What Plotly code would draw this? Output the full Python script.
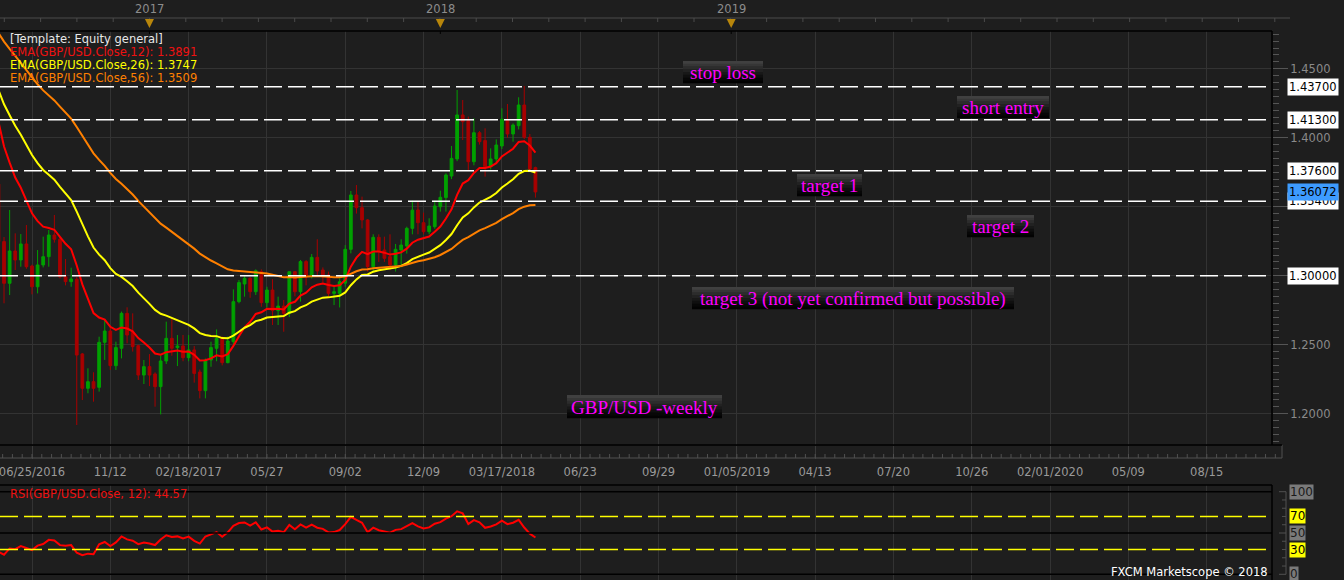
import plotly.graph_objects as go
import pandas as pd

W, H = 1344, 580

# ---------------- data ----------------
bar_dates = pd.date_range("2016-06-25", periods=97, freq="7D")
opens = [1.3664, 1.3247, 1.2945, 1.3179, 1.3114, 1.3230, 1.3070, 1.2920, 1.3078, 1.3138,
         1.3295, 1.3264, 1.2993, 1.2957, 1.2974, 1.2433, 1.2184, 1.2232, 1.2191, 1.2517,
         1.2599, 1.2348, 1.2474, 1.2727, 1.2590, 1.2493, 1.2280, 1.2341, 1.2288, 1.2196,
         1.2382, 1.2546, 1.2479, 1.2491, 1.2406, 1.2462, 1.2302, 1.2167, 1.2389, 1.2474,
         1.2546, 1.2370, 1.2522, 1.2812, 1.2940, 1.2981, 1.2884, 1.3029, 1.2805, 1.2896,
         1.2747, 1.2780, 1.2727, 1.3029, 1.2884, 1.3102, 1.2993, 1.3133, 1.3041, 1.3005,
         1.2872, 1.2872, 1.2946, 1.3191, 1.3585, 1.3493, 1.3404, 1.3065, 1.3278, 1.3186,
         1.3138, 1.3078, 1.3186, 1.3215, 1.3343, 1.3476, 1.3384, 1.3319, 1.3355, 1.3500,
         1.3566, 1.3722, 1.3846, 1.4165, 1.4124, 1.3826, 1.4036, 1.3979, 1.3790, 1.3846,
         1.3940, 1.4128, 1.4027, 1.4087, 1.4237, 1.4003, 1.3783]
highs = [1.3700, 1.3280, 1.3476, 1.3307, 1.3302, 1.3367, 1.3080, 1.3186, 1.3283, 1.3331,
         1.3440, 1.3280, 1.3121, 1.3058, 1.2990, 1.2440, 1.2329, 1.2300, 1.2558, 1.2679,
         1.2640, 1.2522, 1.2740, 1.2771, 1.2727, 1.2500, 1.2389, 1.2432, 1.2300, 1.2420,
         1.2667, 1.2690, 1.2570, 1.2570, 1.2570, 1.2490, 1.2320, 1.2400, 1.2522, 1.2611,
         1.2560, 1.2560, 1.2901, 1.2969, 1.3005, 1.2990, 1.3046, 1.3046, 1.2920, 1.2975,
         1.2848, 1.2824, 1.3030, 1.3030, 1.3114, 1.3114, 1.3157, 1.3264, 1.3060, 1.3030,
         1.2920, 1.2980, 1.3222, 1.3614, 1.3657, 1.3573, 1.3410, 1.3300, 1.3300, 1.3283,
         1.3300, 1.3230, 1.3264, 1.3355, 1.3544, 1.3536, 1.3457, 1.3416, 1.3544, 1.3616,
         1.3742, 1.3940, 1.4346, 1.4273, 1.4153, 1.4140, 1.4048, 1.4068, 1.3923, 1.3988,
         1.4213, 1.4244, 1.4104, 1.4293, 1.4375, 1.4027, 1.3790]
lows = [1.3200, 1.2800, 1.2860, 1.3041, 1.3065, 1.3050, 1.2865, 1.2872, 1.3060, 1.3065,
        1.3240, 1.2980, 1.2930, 1.2920, 1.1918, 1.2099, 1.2148, 1.2087, 1.2160, 1.2390,
        1.2317, 1.2317, 1.2401, 1.2510, 1.2450, 1.2244, 1.2215, 1.2200, 1.2051, 1.1995,
        1.2360, 1.2420, 1.2345, 1.2380, 1.2380, 1.2225, 1.2111, 1.2111, 1.2340, 1.2380,
        1.2350, 1.2365, 1.2500, 1.2800, 1.2848, 1.2840, 1.2860, 1.2775, 1.2770, 1.2643,
        1.2643, 1.2594, 1.2700, 1.2850, 1.2812, 1.2930, 1.2980, 1.3000, 1.2950, 1.2840,
        1.2787, 1.2770, 1.2920, 1.3162, 1.3450, 1.3343, 1.3030, 1.3030, 1.3100, 1.3100,
        1.3040, 1.3030, 1.3060, 1.3160, 1.3300, 1.3300, 1.3300, 1.3300, 1.3340, 1.3464,
        1.3464, 1.3700, 1.3830, 1.3983, 1.3766, 1.3800, 1.3950, 1.3718, 1.3770, 1.3820,
        1.3918, 1.4000, 1.3971, 1.4060, 1.3990, 1.3760, 1.3566]
closes = [1.3247, 1.2945, 1.3179, 1.3114, 1.3230, 1.3065, 1.2920, 1.3078, 1.3138, 1.3295,
          1.3264, 1.2993, 1.2957, 1.2976, 1.2425, 1.2184, 1.2232, 1.2184, 1.2517, 1.2599,
          1.2348, 1.2479, 1.2727, 1.2570, 1.2486, 1.2280, 1.2341, 1.2280, 1.2196, 1.2382,
          1.2546, 1.2474, 1.2491, 1.2406, 1.2462, 1.2292, 1.2167, 1.2389, 1.2479, 1.2546,
          1.2370, 1.2527, 1.2812, 1.2950, 1.2981, 1.2884, 1.3036, 1.2805, 1.2896, 1.2747,
          1.2780, 1.2727, 1.3029, 1.2884, 1.3102, 1.2993, 1.3133, 1.3034, 1.2993, 1.2872,
          1.2884, 1.2956, 1.3191, 1.3585, 1.3493, 1.3404, 1.3065, 1.3278, 1.3174, 1.3126,
          1.3078, 1.3191, 1.3222, 1.3343, 1.3475, 1.3384, 1.3319, 1.3360, 1.3505, 1.3568,
          1.3730, 1.3850, 1.4165, 1.4116, 1.3826, 1.4036, 1.3971, 1.3790, 1.3846, 1.3947,
          1.4133, 1.4027, 1.4092, 1.4237, 1.4003, 1.3773, 1.3607]

# indicator lines, one value per weekly bar
ema12 = [1.4116, 1.3936, 1.3819, 1.3711, 1.3637, 1.3549, 1.3452, 1.3395, 1.3355, 1.3346,
         1.3333, 1.3281, 1.3231, 1.3192, 1.3074, 1.2937, 1.2829, 1.2729, 1.2697, 1.2682,
         1.2630, 1.2607, 1.2625, 1.2617, 1.2597, 1.2548, 1.2516, 1.2480, 1.2436, 1.2428,
         1.2446, 1.2450, 1.2457, 1.2449, 1.2451, 1.2426, 1.2386, 1.2387, 1.2401, 1.2423,
         1.2415, 1.2432, 1.2491, 1.2561, 1.2626, 1.2666, 1.2723, 1.2735, 1.2760, 1.2758,
         1.2761, 1.2756, 1.2798, 1.2811, 1.2856, 1.2877, 1.2916, 1.2935, 1.2944, 1.2933,
         1.2925, 1.2930, 1.2970, 1.3065, 1.3131, 1.3173, 1.3156, 1.3175, 1.3175, 1.3167,
         1.3153, 1.3159, 1.3169, 1.3196, 1.3239, 1.3261, 1.3270, 1.3284, 1.3318, 1.3356,
         1.3414, 1.3481, 1.3586, 1.3668, 1.3692, 1.3745, 1.3780, 1.3781, 1.3791, 1.3815,
         1.3864, 1.3889, 1.3920, 1.3969, 1.3974, 1.3943, 1.3892]
ema26 = [1.4346, 1.4242, 1.4163, 1.4086, 1.4022, 1.3951, 1.3875, 1.3816, 1.3766, 1.3731,
         1.3696, 1.3644, 1.3593, 1.3548, 1.3464, 1.3370, 1.3285, 1.3204, 1.3153, 1.3112,
         1.3055, 1.3013, 1.2991, 1.2960, 1.2925, 1.2877, 1.2838, 1.2796, 1.2752, 1.2724,
         1.2711, 1.2694, 1.2679, 1.2658, 1.2644, 1.2618, 1.2584, 1.2570, 1.2563, 1.2562,
         1.2548, 1.2546, 1.2566, 1.2594, 1.2623, 1.2642, 1.2671, 1.2681, 1.2697, 1.2701,
         1.2707, 1.2708, 1.2732, 1.2743, 1.2770, 1.2786, 1.2812, 1.2829, 1.2841, 1.2843,
         1.2846, 1.2854, 1.2879, 1.2931, 1.2973, 1.3005, 1.3009, 1.3029, 1.3040, 1.3046,
         1.3049, 1.3059, 1.3071, 1.3091, 1.3120, 1.3139, 1.3153, 1.3168, 1.3193, 1.3221,
         1.3259, 1.3302, 1.3366, 1.3422, 1.3452, 1.3495, 1.3530, 1.3550, 1.3571, 1.3599,
         1.3639, 1.3668, 1.3699, 1.3739, 1.3758, 1.3760, 1.3748]
ema56 = [1.4760, 1.4696, 1.4643, 1.4589, 1.4542, 1.4490, 1.4435, 1.4387, 1.4343, 1.4307,
         1.4270, 1.4225, 1.4181, 1.4138, 1.4078, 1.4012, 1.3949, 1.3887, 1.3839, 1.3796,
         1.3745, 1.3701, 1.3666, 1.3628, 1.3588, 1.3542, 1.3500, 1.3457, 1.3413, 1.3377,
         1.3348, 1.3317, 1.3288, 1.3257, 1.3229, 1.3196, 1.3160, 1.3133, 1.3110, 1.3090,
         1.3065, 1.3046, 1.3038, 1.3035, 1.3033, 1.3028, 1.3028, 1.3020, 1.3016, 1.3006,
         1.2998, 1.2989, 1.2990, 1.2987, 1.2991, 1.2991, 1.2996, 1.2997, 1.2997, 1.2993,
         1.2989, 1.2988, 1.2995, 1.3015, 1.3032, 1.3045, 1.3046, 1.3054, 1.3058, 1.3061,
         1.3061, 1.3066, 1.3071, 1.3081, 1.3095, 1.3105, 1.3112, 1.3121, 1.3134, 1.3150,
         1.3170, 1.3194, 1.3228, 1.3259, 1.3279, 1.3306, 1.3329, 1.3345, 1.3363, 1.3383,
         1.3410, 1.3431, 1.3454, 1.3482, 1.3500, 1.3510, 1.3513]
rsi12 = [27.3, 23.8, 31.3, 30.4, 34.2, 31.5, 29.4, 34.7, 36.7, 41.7, 41.0, 35.3, 34.6,
         35.4, 26.1, 23.2, 25.0, 24.4, 36.4, 39.1, 34.3, 38.6, 45.8, 42.3, 40.6,
         36.5, 38.5, 37.2, 35.4, 42.1, 47.3, 45.3, 45.9, 43.4, 45.6, 40.5, 37.2, 45.8,
         48.9, 51.1, 45.4, 50.8, 58.8, 62.1, 62.8, 59.0, 62.9, 54.3, 56.8, 51.7,
         52.8, 50.9, 59.8, 54.6, 60.3, 56.4, 60.0, 56.4, 55.0, 50.7, 51.1, 53.6, 60.8,
         69.5, 65.8, 62.3, 51.0, 56.4, 53.3, 51.8, 50.3, 53.8, 54.7, 58.3, 61.9,
         58.1, 55.5, 56.8, 61.3, 63.2, 67.5, 70.3, 76.2, 73.7, 60.9, 65.6, 63.0, 56.3,
         57.9, 60.5, 65.0, 60.7, 62.4, 65.9, 56.6, 49.2, 44.6]

ema_periods = [12, 26, 56]
ema_legend_values = [1.3891, 1.3747, 1.3509]
ema_colors = ["#ff0000", "#ffff00", "#ff8000"]
rsi_period = 12
rsi_label_value = 44.57

levels = [1.437, 1.413, 1.376, 1.354, 1.300]
current_price = 1.36072

tick_dates = ["2016-08-06", "2016-11-12", "2017-02-18", "2017-05-27", "2017-09-02",
              "2017-12-09", "2018-03-17", "2018-06-23", "2018-09-29", "2019-01-05",
              "2019-04-13", "2019-07-20", "2019-10-26", "2020-02-01", "2020-05-09",
              "2020-08-15"]
tick_labels = ["06/25/2016", "11/12", "02/18/2017", "05/27", "09/02", "12/09",
               "03/17/2018", "06/23", "09/29", "01/05/2019", "04/13", "07/20",
               "10/26", "02/01/2020", "05/09", "08/15"]
year_labels = ["2017", "2018", "2019"]
year_marker_dates = ["2016-12-31", "2017-12-30", "2018-12-29"]
price_ticks = [1.20, 1.25, 1.30, 1.35, 1.40, 1.45]
# 1.3000 and 1.3500 sit under the level boxes in the reference
price_tick_labels = ["1.2000", "1.2500", "", "", "1.4000", "1.4500"]
rsi_marks = [100, 70, 50, 30, 0]

notes = ["stop loss", "short entry", "target 1", "target 2",
         "target 3 (not yet confirmed but possible)", "GBP/USD -weekly"]

# ---------------- layout geometry (pixels) ----------------
PLOT_R = 1272
MAIN_T, MAIN_B = 31, 445
RSI_T = 485
ANCHOR_DATE = pd.Timestamp("2016-08-06")
ANCHOR_PX = 32.0
PX_PER_DAY = 0.7991


def P(x):
    return x / W


def Q(y):
    return 1 - y / H


def date_px(d):
    return ANCHOR_PX + PX_PER_DAY * (pd.Timestamp(d) - ANCHOR_DATE) / pd.Timedelta(days=1)


x_start = ANCHOR_DATE - pd.Timedelta(days=ANCHOR_PX / PX_PER_DAY)
x_end = ANCHOR_DATE + pd.Timedelta(days=(PLOT_R - ANCHOR_PX) / PX_PER_DAY)

# price scale: 1.45 at y=68.7, 1380 px per unit;  RSI scale: 0 at y=574.3, 0.826 px per unit
y_top_val = 1.45 + (68.7 - MAIN_T) / 1380
y_bot_val = 1.45 - (MAIN_B - 68.7) / 1380
r_top_val = (574.3 - RSI_T) / 0.826
r_bot_val = (574.3 - H) / 0.826

BG = "#1e1e1e"
GRID = "#333333"
GREEN = "#00a000"
DRED = "#a80000"
FONT = "DejaVu Sans"

fig = go.Figure()
fig.add_trace(go.Candlestick(
    x=bar_dates, open=opens, high=highs, low=lows, close=closes,
    increasing=dict(line=dict(color=GREEN, width=1), fillcolor=GREEN),
    decreasing=dict(line=dict(color=DRED, width=1), fillcolor=DRED),
    whiskerwidth=0, showlegend=False, hoverinfo="skip", xaxis="x", yaxis="y"))
for vals, col in zip([ema12, ema26, ema56], ema_colors):
    fig.add_trace(go.Scatter(x=bar_dates, y=vals, mode="lines",
                             line=dict(color=col, width=2), hoverinfo="skip",
                             showlegend=False, xaxis="x", yaxis="y"))
fig.add_trace(go.Scatter(x=bar_dates, y=rsi12, mode="lines",
                         line=dict(color="#ff0000", width=2), hoverinfo="skip",
                         showlegend=False, xaxis="x2", yaxis="y2"))

shapes = []
annotations = []

# bottom tick band
shapes.append(dict(type="line", xref="paper", yref="paper", x0=0, x1=P(1282),
                   y0=Q(458), y1=Q(458), line=dict(color="#505050", width=1)))
shapes.append(dict(type="line", xref="paper", yref="paper", x0=P(1282), x1=P(1282),
                   y0=Q(445), y1=Q(458), line=dict(color="#505050", width=1)))
xx = ANCHOR_PX - 3 * 9.79
while xx < 1280:
    if xx > 0:
        shapes.append(dict(type="line", xref="paper", yref="paper", x0=P(xx), x1=P(xx),
                           y0=Q(458), y1=Q(454), line=dict(color="#505050", width=1)))
    xx += 9.79

# top band with year markers
shapes.append(dict(type="line", xref="paper", yref="paper", x0=0, x1=P(1290),
                   y0=Q(18), y1=Q(18), line=dict(color="#4a4a4a", width=1)))
xx = 149.5 - 4 * 36.3
while xx < 1280:
    shapes.append(dict(type="line", xref="paper", yref="paper", x0=P(xx), x1=P(xx),
                       y0=Q(18), y1=Q(22), line=dict(color="#4a4a4a", width=1)))
    xx += 36.3
for lab, d in zip(year_labels, year_marker_dates):
    cx = date_px(d)
    shapes.append(dict(type="path", xref="paper", yref="paper",
                       path=f"M {P(cx-4.5)},{Q(19)} L {P(cx+4.5)},{Q(19)} L {P(cx)},{Q(28)} Z",
                       fillcolor="#b8860b", line=dict(width=0)))
    shapes.append(dict(type="line", xref="paper", yref="paper", x0=P(cx), x1=P(cx),
                       y0=Q(31), y1=Q(34), line=dict(color="#000000", width=1)))
    annotations.append(dict(xref="paper", yref="paper", x=P(cx), y=Q(9), text=lab,
                            showarrow=False, xanchor="center", yanchor="middle",
                            font=dict(family=FONT, size=11.5, color="#8c8c8c")))

# panel borders
for (x0, y0, x1, y1) in [(0, MAIN_T, PLOT_R, MAIN_T), (PLOT_R, MAIN_T, PLOT_R, MAIN_B),
                         (0, MAIN_B, 1282, MAIN_B), (0, RSI_T, PLOT_R, RSI_T),
                         (PLOT_R, RSI_T, PLOT_R, H)]:
    shapes.append(dict(type="line", xref="paper", yref="paper", x0=P(x0), x1=P(x1),
                       y0=Q(y0), y1=Q(y1), line=dict(color="#000000", width=1.5),
                       layer="above"))

# price level dashed lines and their labels
for lv in levels:
    shapes.append(dict(type="line", xref="paper", yref="y", x0=0, x1=P(1266), y0=lv, y1=lv,
                       line=dict(color="#ffffff", width=1.5, dash="18px,6px"), layer="above"))
    annotations.append(dict(xref="paper", yref="y", x=P(1287), y=lv, text=f"{lv:.5f}",
                            showarrow=False, xanchor="left", yanchor="middle",
                            bgcolor="#ffffff", borderpad=1,
                            font=dict(family=FONT, size=11.5, color="#000000")))
annotations.append(dict(xref="paper", yref="y", x=P(1287), y=current_price,
                        text=f"{current_price:.5f}", showarrow=False, xanchor="left",
                        yanchor="middle", bgcolor="#3d9bff", borderpad=1,
                        font=dict(family=FONT, size=11.5, color="#000000")))

# RSI panel lines and labels
for lv in rsi_marks:
    yellow = lv in (70, 30)
    if yellow:
        shapes.append(dict(type="line", xref="paper", yref="y2", x0=0, x1=P(1266), y0=lv,
                           y1=lv, line=dict(color="#ffff00", width=1.5, dash="18px,6px")))
    else:
        shapes.append(dict(type="line", xref="paper", yref="y2", x0=0, x1=P(PLOT_R), y0=lv,
                           y1=lv, line=dict(color="#000000", width=1.5)))
    annotations.append(dict(xref="paper", yref="y2", x=P(1289), y=lv, text=str(lv),
                            showarrow=False, xanchor="left", yanchor="middle",
                            bgcolor="#ffff00" if yellow else "#7a7a7a", borderpad=0,
                            font=dict(family=FONT, size=12,
                                      color="#000000" if yellow else "#1a1a1a")))
shapes.append(dict(type="line", xref="paper", yref="y2", x0=P(1286), x1=P(1286),
                   y0=0, y1=100, line=dict(color="#505050", width=1)))
for k in range(0, 101, 10):
    x0 = 1279 if k in (0, 50, 100) else 1282
    shapes.append(dict(type="line", xref="paper", yref="y2", x0=P(x0), x1=P(1286),
                       y0=k, y1=k, line=dict(color="#505050", width=1)))

# note boxes with a dark gradient background
note_boxes = [(683, 763, 61, 83), (957, 1049, 96, 118), (797, 862, 174, 196),
              (967, 1034, 215, 237), (692, 1014, 287, 309), (567, 722, 395, 418)]
grad = ["#404040", "#363636", "#2c2c2c", "#222222", "#181818", "#0f0f0f", "#070707", "#020202"]
for txt, (bx0, bx1, by0, by1) in zip(notes, note_boxes):
    step = (by1 - by0) / len(grad)
    for k, c in enumerate(grad):
        shapes.append(dict(type="rect", xref="paper", yref="paper", x0=P(bx0), x1=P(bx1),
                           y0=Q(by0 + k * step), y1=Q(by0 + (k + 1) * step + 0.3),
                           fillcolor=c, line=dict(width=0), layer="above"))
    annotations.append(dict(xref="paper", yref="paper", x=P((bx0 + bx1) / 2),
                            y=Q((by0 + by1) / 2 + 0.5), text=txt, showarrow=False,
                            xanchor="center", yanchor="middle",
                            font=dict(family="Liberation Serif", size=19, color="#ff00ff")))

# indicator legend texts
legend_lines = ["[Template: Equity general]"] + [
    f"EMA(GBP/USD.Close,{n}): {v:.4f}" for n, v in zip(ema_periods, ema_legend_values)]
legend_colors = ["#e8e8e8", "#ee1111", "#ffff00", "#ff8000"]
for k, (t, c) in enumerate(zip(legend_lines, legend_colors)):
    annotations.append(dict(xref="paper", yref="paper", x=P(8), y=Q(39.3 + 13 * k), text=t,
                            showarrow=False, xanchor="left", yanchor="middle",
                            font=dict(family=FONT, size=11.5, color=c)))
annotations.append(dict(xref="paper", yref="paper", x=P(8), y=Q(494),
                        text=f"RSI(GBP/USD.Close, {rsi_period}): {rsi_label_value:.2f}",
                        showarrow=False, xanchor="left", yanchor="middle",
                        font=dict(family=FONT, size=11.5, color="#ee1111")))
annotations.append(dict(xref="paper", yref="paper", x=P(1270), y=Q(572),
                        text="FXCM Marketscope © 2018", showarrow=False, xanchor="right",
                        yanchor="middle", font=dict(family=FONT, size=11.5, color="#ffffff")))

fig.update_layout(
    width=W, height=H, margin=dict(l=0, r=0, t=0, b=0),
    paper_bgcolor=BG, plot_bgcolor="rgba(0,0,0,0)", showlegend=False,
    font=dict(family=FONT, color="#9a9a9a"),
    xaxis=dict(domain=[0, P(PLOT_R)], range=[x_start, x_end], type="date",
               tickvals=tick_dates, ticktext=tick_labels, tickmode="array",
               tickfont=dict(family=FONT, size=11.5, color="#9a9a9a"),
               ticks="outside", ticklen=13, tickcolor="#3a3a3a", ticklabelstandoff=3,
               ticklabeloverflow="allow",
               showgrid=True, gridcolor=GRID, gridwidth=1, zeroline=False,
               showline=False, anchor="y", rangeslider=dict(visible=False)),
    yaxis=dict(domain=[Q(MAIN_B), Q(MAIN_T)], range=[y_bot_val, y_top_val], side="right",
               tickvals=price_ticks, ticktext=price_tick_labels, tickmode="array",
               tickfont=dict(family=FONT, size=11.5, color="#8a8a8a"),
               ticks="outside", ticklen=15, tickcolor="#555555",
               ticklabeloverflow="allow",
               minor=dict(dtick=0.005, tick0=1.2, ticks="outside", ticklen=6,
                          tickcolor="#555555", showgrid=False),
               showgrid=True, gridcolor=GRID, zeroline=False, showline=False, anchor="x"),
    xaxis2=dict(domain=[0, P(PLOT_R)], range=[x_start, x_end], type="date", matches="x",
                tickvals=tick_dates, tickmode="array", showticklabels=False, ticks="",
                showgrid=True, gridcolor=GRID, zeroline=False, anchor="y2"),
    yaxis2=dict(domain=[0, Q(RSI_T)], range=[r_bot_val, r_top_val], showgrid=False,
                showticklabels=False, zeroline=False, ticks="", anchor="x2", side="right"),
    shapes=shapes, annotations=annotations,
)

fig.write_html("out.html", config={"displayModeBar": False},
               post_script="document.body.style.margin='0px';"
                           "document.body.style.background='#1e1e1e';")
